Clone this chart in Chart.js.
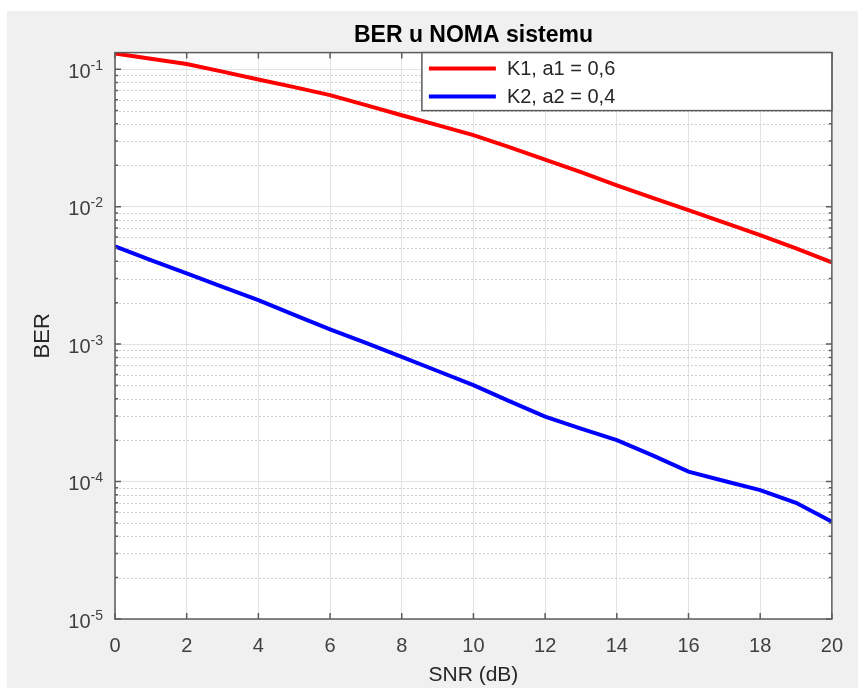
<!DOCTYPE html>
<html>
<head>
<meta charset="utf-8">
<title>BER u NOMA sistemu</title>
<script src="https://cdn.jsdelivr.net/npm/chart.js@4/dist/chart.umd.min.js"></script>
<style>
  html, body { margin: 0; padding: 0; background: #fff; }
  #wrap { position: absolute; left: 7px; top: 11px; width: 851px; height: 677px; background: #f0f0f0; }
</style>
</head>
<body>
<div id="wrap"><canvas id="chart"></canvas></div>
<script>
// data
const snr = [0, 1, 2, 3, 4, 5, 6, 7, 8, 9, 10, 11, 12, 13, 14, 15, 16, 17, 18, 19, 20]
const berK1 = [0.130, 0.119, 0.109, 0.096, 0.0841, 0.074, 0.0648, 0.0547, 0.0462, 0.0392, 0.0331,
  0.0271, 0.0220, 0.0178, 0.0143, 0.0116, 0.00944, 0.00766, 0.00621, 0.00496, 0.00393]
const berK2 = [0.00515, 0.00408, 0.00327, 0.00261, 0.00209, 0.00163, 0.00128, 0.00102, 0.000807, 0.000637, 0.000503,
  0.000385, 0.000297, 0.000243, 0.000200, 0.000155, 0.000118, 0.000101, 0.0000867, 0.0000700, 0.0000510]

const labelK1 = 'K1, a1 = 0,6'
const labelK2 = 'K2, a2 = 0,4'

// axis ticks
const xTicks = [0, 2, 4, 6, 8, 10, 12, 14, 16, 18, 20]
const yTicks = [1e-5, 1e-4, 1e-3, 1e-2, 1e-1]
const yTickBase = '10'
const yTickExp = ['-5', '-4', '-3', '-2', '-1']
const Y_MIN = 1e-5
const Y_MAX = 0.132

// minor log grid (2..9 per decade)
const yMinorTicks = []
yTicks.forEach(d => {
  for (let m = 2; m <= 9; m++) {
    if (m * d <= Y_MAX) yMinorTicks.push(m * d)
  }
})

const FONT = 'Liberation Sans, Arial, Helvetica, sans-serif'
const AXIS_COLOR = '#5c5c5c'
const TICK_COLOR = '#404040'

// white plot area, dotted minor grid, box, inward ticks and 10^n labels like matlab
const frame = {
  id: 'frame',
  beforeDraw(chart) {
    const {ctx, chartArea: a} = chart
    ctx.save()
    ctx.fillStyle = '#fff'
    ctx.fillRect(a.left, a.top, a.width, a.height)
    ctx.restore()
  },
  beforeDatasetsDraw(chart) {
    const {ctx, chartArea: a, scales} = chart
    ctx.save()
    ctx.strokeStyle = '#cdcdcd'
    ctx.lineWidth = 1
    ctx.setLineDash([2, 2])
    ctx.beginPath()
    yMinorTicks.forEach(v => {
      const py = Math.round(scales.y.getPixelForValue(v)) + 0.5
      ctx.moveTo(a.left, py); ctx.lineTo(a.right, py)
    })
    ctx.stroke()
    ctx.restore()
  },
  afterDatasetsDraw(chart) {
    const {ctx, chartArea: a, scales} = chart
    ctx.save()
    ctx.strokeStyle = AXIS_COLOR
    ctx.lineWidth = 1.5
    ctx.beginPath()
    xTicks.forEach(v => {
      const px = scales.x.getPixelForValue(v)
      ctx.moveTo(px, a.bottom); ctx.lineTo(px, a.bottom - 6)
      ctx.moveTo(px, a.top); ctx.lineTo(px, a.top + 6)
    })
    yTicks.forEach(v => {
      const py = scales.y.getPixelForValue(v)
      ctx.moveTo(a.left, py); ctx.lineTo(a.left + 6, py)
      ctx.moveTo(a.right, py); ctx.lineTo(a.right - 6, py)
    })
    yMinorTicks.forEach(v => {
      const py = scales.y.getPixelForValue(v)
      ctx.moveTo(a.left, py); ctx.lineTo(a.left + 3, py)
      ctx.moveTo(a.right, py); ctx.lineTo(a.right - 3, py)
    })
    ctx.stroke()
    ctx.strokeRect(a.left, a.top, a.width, a.height)

    // y tick labels with raised exponent
    ctx.fillStyle = TICK_COLOR
    ctx.textBaseline = 'middle'
    ctx.textAlign = 'left'
    yTicks.forEach((v, i) => {
      const py = scales.y.getPixelForValue(v)
      ctx.font = '14px ' + FONT
      const ew = ctx.measureText(yTickExp[i]).width
      ctx.font = '20px ' + FONT
      const bw = ctx.measureText(yTickBase).width
      const right = a.left - 12
      ctx.fillText(yTickBase, right - ew - bw, py + 3)
      ctx.font = '14px ' + FONT
      ctx.fillText(yTickExp[i], right - ew, py - 3)
    })
    ctx.restore()
  }
}

// legend box in the top right corner of the axes
const boxLegend = {
  id: 'boxLegend',
  afterDraw(chart) {
    const {ctx, chartArea: a} = chart
    const w = 410, h = 58
    const left = a.right - w
    const top = a.top
    ctx.save()
    ctx.fillStyle = '#fff'
    ctx.fillRect(left, top, w, h)
    ctx.strokeStyle = AXIS_COLOR
    ctx.lineWidth = 1.5
    ctx.strokeRect(left, top, w, h)
    ctx.font = '20px ' + FONT
    ctx.textBaseline = 'middle'
    chart.data.datasets.forEach((ds, i) => {
      const y = top + 16 + i * 28
      ctx.strokeStyle = ds.borderColor
      ctx.lineWidth = 4
      ctx.beginPath()
      ctx.moveTo(left + 7, y)
      ctx.lineTo(left + 74, y)
      ctx.stroke()
      ctx.fillStyle = '#262626'
      ctx.fillText(ds.label, left + 85, y + 1)
    })
    ctx.restore()
  }
}

new Chart(document.getElementById('chart'), {
  type: 'line',
  data: {
    datasets: [
      {
        label: labelK1,
        data: snr.map((x, i) => ({x, y: berK1[i]})),
        borderColor: '#ff0000',
        borderWidth: 4,
        pointRadius: 0,
        tension: 0,
        fill: false
      },
      {
        label: labelK2,
        data: snr.map((x, i) => ({x, y: berK2[i]})),
        borderColor: '#0000ff',
        borderWidth: 4,
        pointRadius: 0,
        tension: 0,
        fill: false
      }
    ]
  },
  options: {
    responsive: true,
    maintainAspectRatio: false,
    animation: false,
    layout: {padding: {left: 0, right: 24, top: 0, bottom: 0}},
    plugins: {
      legend: {display: false},
      tooltip: {enabled: false},
      title: {
        display: true,
        text: 'BER u NOMA sistemu',
        fullSize: false,
        color: '#000',
        font: {family: FONT, size: 23, weight: 'bold', lineHeight: 1.2},
        padding: {top: 11, bottom: 3}
      }
    },
    scales: {
      x: {
        type: 'linear',
        min: 0,
        max: 20,
        afterBuildTicks: s => { s.ticks = xTicks.map(v => ({value: v})) },
        afterFit: s => { s.height = 69 },
        ticks: {color: TICK_COLOR, font: {family: FONT, size: 20}, padding: 15, maxRotation: 0},
        grid: {color: '#e3e3e3', lineWidth: 1, drawTicks: false},
        border: {display: false},
        title: {
          display: true,
          text: 'SNR (dB)',
          color: '#262626',
          font: {family: FONT, size: 21, lineHeight: 1.2},
          padding: {top: 0, bottom: 0}
        }
      },
      y: {
        type: 'logarithmic',
        position: 'left',
        min: Y_MIN,
        max: Y_MAX,
        afterBuildTicks: s => { s.ticks = yTicks.map(v => ({value: v})) },
        afterFit: s => { s.width = 108 },
        ticks: {display: false},
        grid: {color: '#e3e3e3', lineWidth: 1, drawTicks: false},
        border: {display: false},
        title: {
          display: true,
          text: 'BER',
          color: '#262626',
          font: {family: FONT, size: 22, lineHeight: 1.2},
          padding: {top: 23, bottom: 0}
        }
      }
    }
  },
  plugins: [frame, boxLegend]
})
</script>
</body>
</html>
